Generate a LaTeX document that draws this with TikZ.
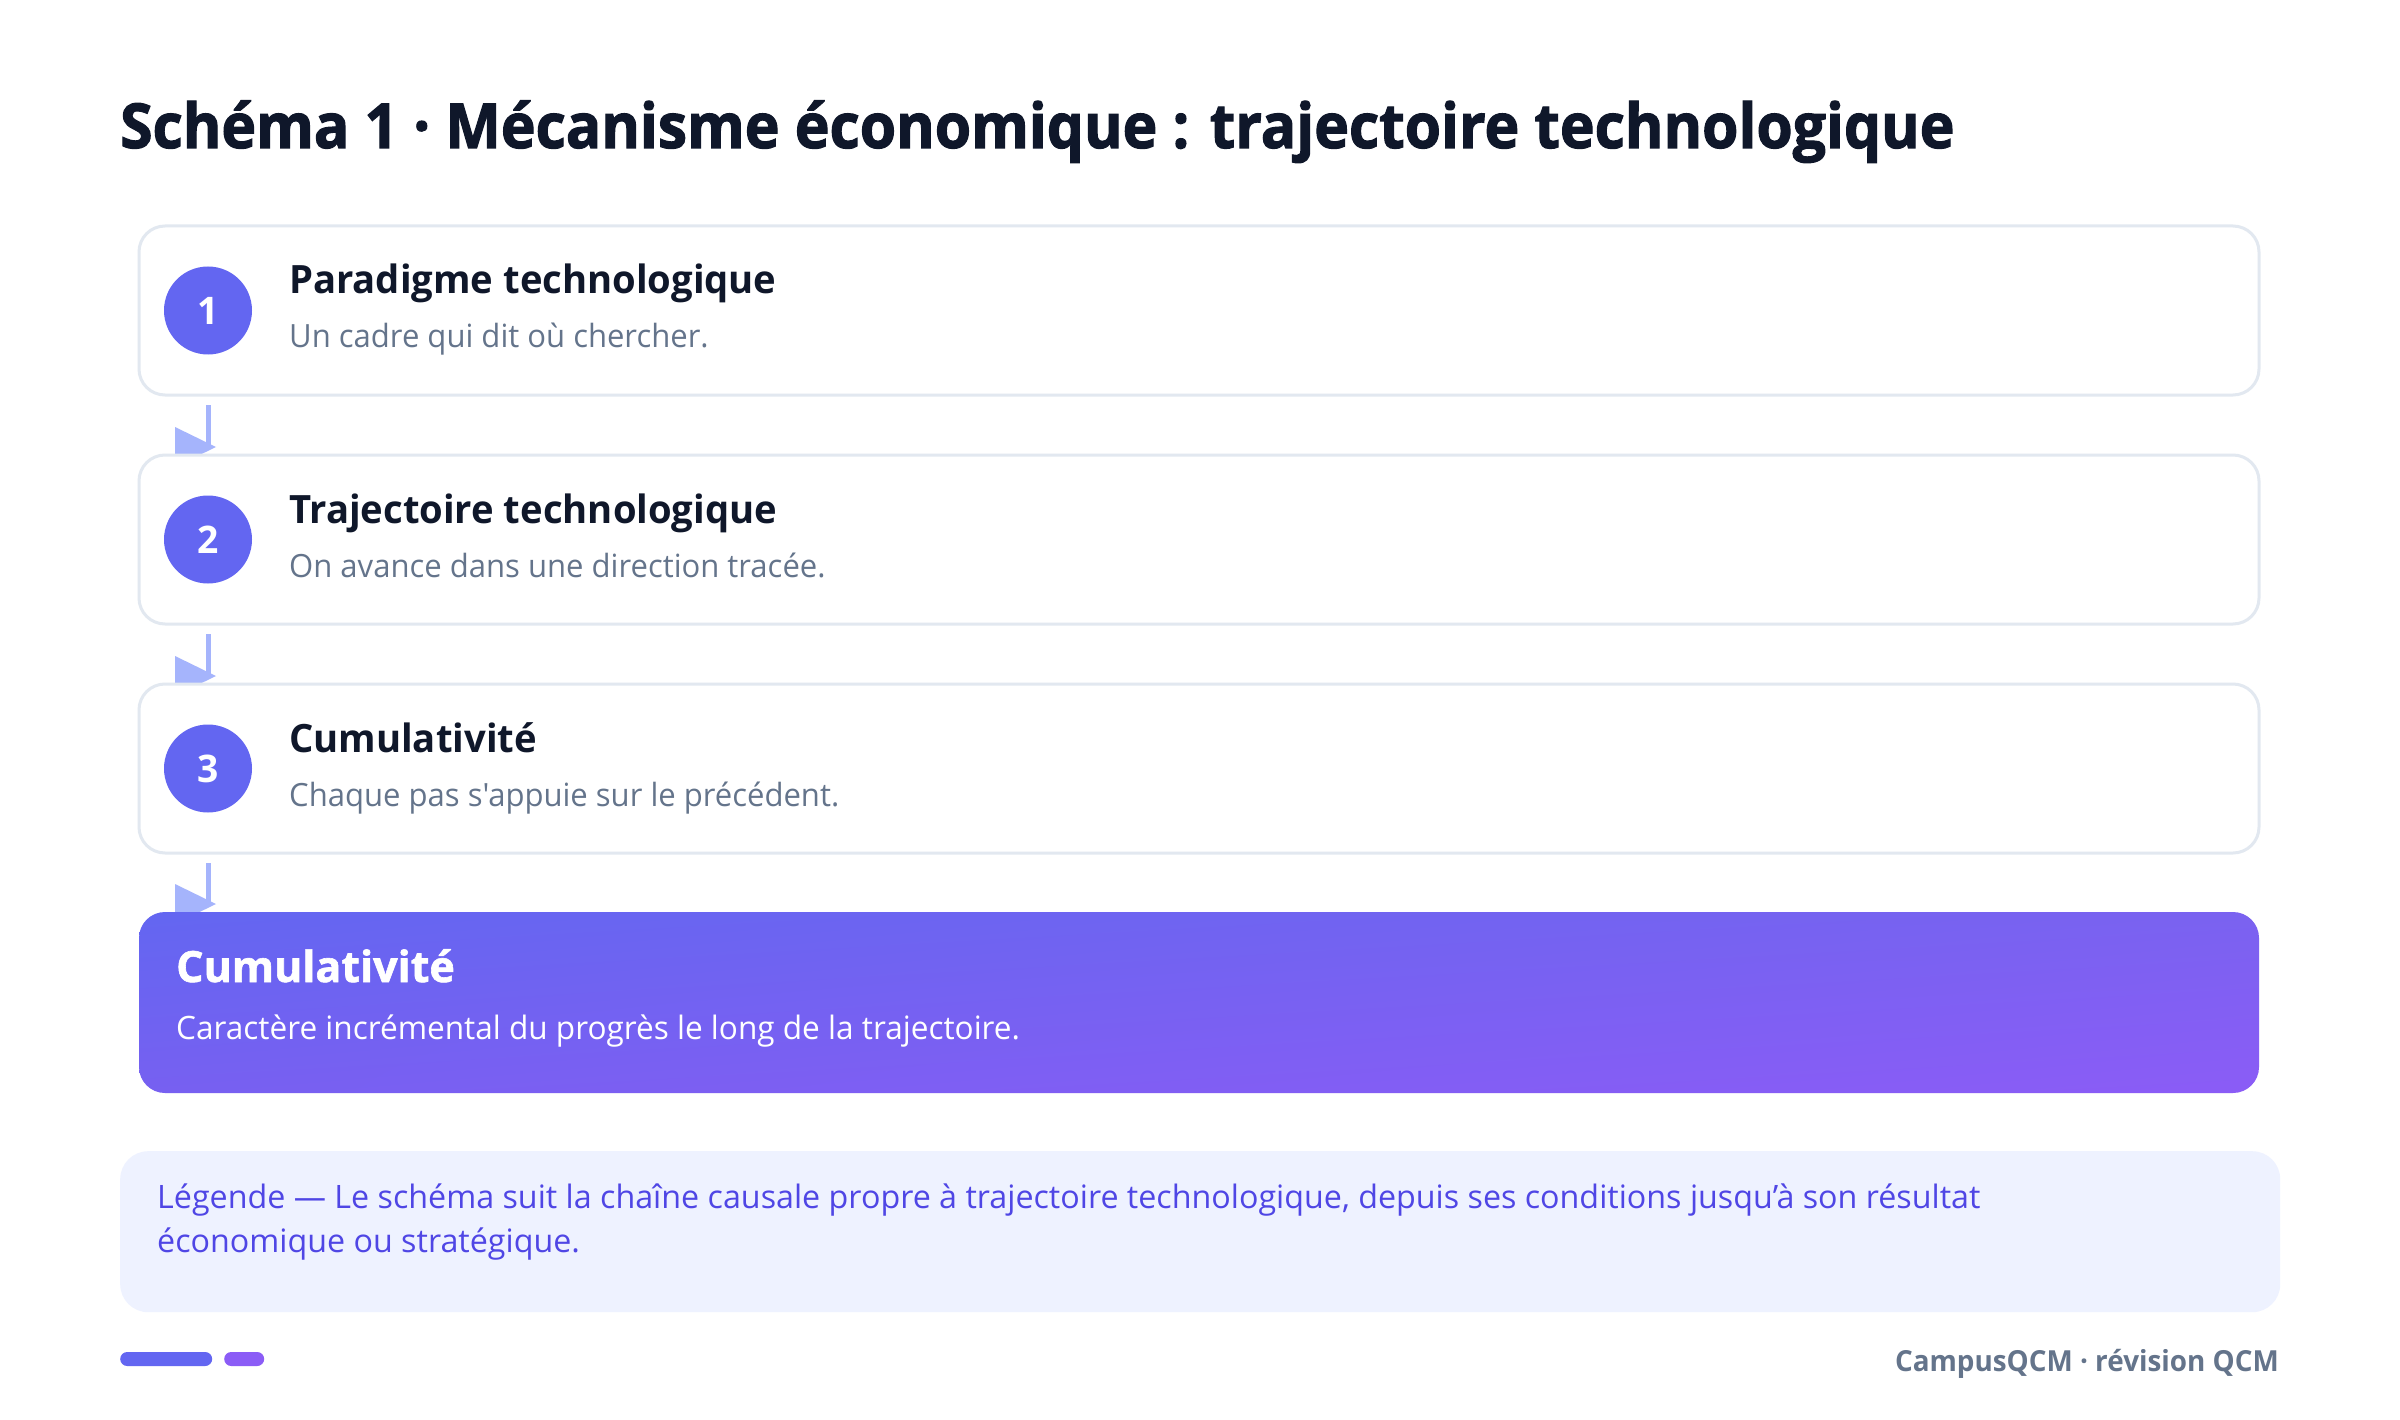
\documentclass[tikz,border=0pt]{standalone}
\usepackage{fontspec}
\setmainfont{Open Sans}
\newfontfamily\regf{Open Sans}[FakeStretch=0.97]
\newfontfamily\regg{Open Sans}[FakeStretch=0.98]
\newfontfamily\boldf{Open Sans}[FakeStretch=0.98]
\newfontfamily\titlef{Open Sans}[FakeStretch=0.948, FakeBold=1.8]
\newfontfamily\heavyf{Open Sans}[FakeBold=1.4]
\newfontfamily\footf{Open Sans}[FakeStretch=0.96]
\usetikzlibrary{calc,backgrounds,shadings}
\definecolor{titlecol}{HTML}{0F172A}
\definecolor{subcol}{HTML}{64748B}
\definecolor{circ}{HTML}{6366F1}
\definecolor{conncol}{HTML}{A5B4FC}
\definecolor{bordercol}{HTML}{E2E8F0}
\definecolor{legbg}{HTML}{EEF2FF}
\definecolor{legtext}{HTML}{4F46E5}
\definecolor{purp}{HTML}{8B5CF6}
\definecolor{gul}{HTML}{6366F1}
\definecolor{gur}{HTML}{7A62F0}
\definecolor{gll}{HTML}{7760F1}
\definecolor{glr}{HTML}{8B5CF6}
\begin{document}
\begin{tikzpicture}[x=1pt,y=-1pt,
  card/.style={draw=bordercol, line width=3pt, fill=white, rounded corners=26pt,
    minimum width=2120pt, minimum height=169pt, anchor=north west, inner sep=0pt, outer sep=0pt},
  numdot/.style={circle, fill=circ, minimum size=88pt, inner sep=0pt, text=white,
    font={\boldf\bfseries\fontsize{38}{38}\selectfont}},
  ttl/.style={anchor=base west, inner sep=0pt, text=titlecol, font={\boldf\bfseries\fontsize{39}{47}\selectfont}},
  sub/.style={anchor=base west, inner sep=0pt, text=subcol, font={\regf\fontsize{32}{40}\selectfont}},
  conn/.style={draw=conncol, line width=5pt},
  head/.style={fill=conncol},
  legtxt/.style={anchor=base west, inner sep=0pt, text=legtext, font={\fontsize{32.25}{44}\selectfont}},
  bar/.style={minimum height=14pt, inner sep=0pt, rounded corners=7pt, anchor=west}
]
\useasboundingbox (0,0) rectangle (2400,1420);
\begin{scope}[on background layer]
\fill[white] (0,0) rectangle (2400,1420);
\end{scope}

% title
\node[anchor=base west, inner sep=0pt, text=titlecol, font={\titlef\bfseries\fontsize{62}{74}\selectfont}] (title) at (120,148)
  {Schéma 1 · Mécanisme économique : trajectoire technologique};

% cards
\node[card] (b1) at (139,226) {};
\node[card] (b2) at (139,455) {};
\node[card] (b3) at (139,684) {};
\node[card, draw=none, minimum height=181pt, upper left=gul, upper right=gur, lower left=gll, lower right=glr] (b4) at (139,912) {};

\node[numdot] (c1) at ($(b1.west)+(69,0)$) {1};
\node[numdot] (c2) at ($(b2.west)+(69,0)$) {2};
\node[numdot] (c3) at ($(b3.west)+(69,0)$) {3};

\node[ttl] (t1) at ($(b1.north west)+(150,68)$) {Paradigme technologique};
\node[sub] (s1) at ($(b1.north west)+(150,122)$) {Un cadre qui dit où chercher.};
\node[ttl] (t2) at ($(b2.north west)+(150,68)$) {Trajectoire technologique};
\node[sub] (s2) at ($(b2.north west)+(150,122)$) {On avance dans une direction tracée.};
\node[ttl] (t3) at ($(b3.north west)+(150,68)$) {Cumulativité};
\node[sub] (s3) at ($(b3.north west)+(150,122)$) {Chaque pas s'appuie sur le précédent.};

\node[ttl, text=white, font={\heavyf\bfseries\fontsize{43}{51}\selectfont}] (t4) at ($(b4.north west)+(37,70)$) {Cumulativité};
\node[sub, text=white, font={\regg\fontsize{32.2}{40}\selectfont}] (s4) at ($(b4.north west)+(37,127)$) {Caractère incrémental du progrès le long de la trajectoire.};

% connectors
\coordinate (a1) at ($(b1.south -| c1)+(0,10)$);
\coordinate (e1) at ($(b2.north -| c1)+(0,-8)$);
\coordinate (a2) at ($(b2.south -| c1)+(0,10)$);
\coordinate (e2) at ($(b3.north -| c1)+(0,-8)$);
\coordinate (a3) at ($(b3.south -| c1)+(0,10)$);
\coordinate (e3) at ($(b4.north -| c1)+(0,-8)$);
\begin{scope}[on background layer]
\foreach \s/\e in {a1/e1,a2/e2,a3/e3}{
  \draw[conn] (\s) -- (\e);
  \fill[head] ($(\e)+(-33,-20)$) -- ($(\e)+(8,0)$) -- ($(\e)+(-33,20)$) -- cycle;
}
\end{scope}

% legend
\node[fill=legbg, rounded corners=28pt, minimum width=2160pt, minimum height=161pt, anchor=north west, inner sep=0pt] (leg) at (120,1151) {};
\node[legtxt] (l1) at ($(leg.north west)+(37,57)$) {Légende — Le schéma suit la chaîne causale propre à trajectoire technologique, depuis ses conditions jusqu’à son résultat};
\node[legtxt] (l2) at ($(leg.north west)+(37,101)$) {économique ou stratégique.};

% footer
\node[bar, fill=circ, minimum width=92pt] (f1) at (120,1359) {};
\node[bar, fill=purp, minimum width=40pt] (f2) at (224,1359) {};
\node[anchor=base east, inner sep=0pt, text=subcol, font={\footf\bfseries\fontsize{29}{35}\selectfont}] (foot) at (2279,1371) {CampusQCM · révision QCM};
\end{tikzpicture}
\end{document}
